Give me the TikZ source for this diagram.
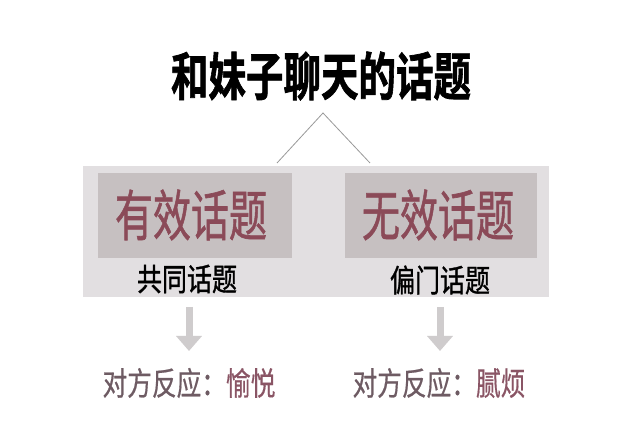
\documentclass[tikz,border=0pt]{standalone}
\usepackage{fontspec}
\usepackage{graphicx}
\newfontfamily\cjk[FakeBold=0.6]{Noto Sans CJK SC}
\newfontfamily\cjkm[FakeBold=1.2]{Noto Sans CJK SC}
\newfontfamily\cjkb[FakeBold=1.5]{Noto Sans CJK SC Bold}
\newcommand\stretchy[2]{\scalebox{1}[#1]{#2}}
\definecolor{panelgray}{HTML}{E2DFE1}
\definecolor{boxgray}{HTML}{C6C0C1}
\definecolor{topicred}{HTML}{8B4A58}
\definecolor{mauve}{HTML}{6E5B63}
\definecolor{pinkred}{HTML}{8A5565}
\definecolor{arrowgray}{HTML}{CFCCCD}
\usetikzlibrary{arrows.meta}
\tikzset{
  title/.style={font=\cjkb\fontsize{37.5}{40}\selectfont, text=black, inner sep=0pt},
  bigtopic/.style={font=\cjkm\fontsize{38}{40}\selectfont, text=topicred, inner sep=0pt},
  subtopic/.style={font=\cjkm\fontsize{25}{27}\selectfont, text=black, inner sep=0pt},
  reaction/.style={font=\cjk\fontsize{24.7}{27}\selectfont, text=mauve, inner sep=0pt},
  link/.style={draw=gray!80, line width=0.8pt},
  downarrow/.style={draw=arrowgray, line width=7pt, -{Triangle[width=25pt,length=15pt]}},
}
\begin{document}
\begin{tikzpicture}[x=1pt,y=-1pt]
\useasboundingbox[fill=white] (0,0) rectangle (622,438);
% panel
\fill[panelgray] (83,166) rectangle (549,297);
\fill[boxgray] (98,173) rectangle (292,258);
\fill[boxgray] (345,173) rectangle (537,258);
% title
\node[title] (t) at (321,76) {\stretchy{1.38}{和妹子聊天的话题}};
\coordinate (apex) at (323,113);
\coordinate (lf) at (277,163);
\coordinate (rf) at (370,163);
\draw[link] (lf) -- (apex) -- (rf);
% topics
\node[bigtopic] (eff) at (191,215) {\stretchy{1.45}{有效话题}};
\node[bigtopic] (ineff) at (438,215) {\stretchy{1.45}{无效话题}};
\node[subtopic] (common) at (187,279) {\stretchy{1.25}{共同话题}};
\node[subtopic] (niche) at (440,280) {\stretchy{1.25}{偏门话题}};
% arrows
\coordinate (la1) at (189,307);
\coordinate (la2) at (189,351);
\coordinate (ra1) at (440,307);
\coordinate (ra2) at (440,351);
\draw[downarrow] (la1) -- (la2);
\draw[downarrow] (ra1) -- (ra2);
% reactions
\node[reaction] (r1) at (189,383) {\stretchy{1.3}{对方反应：\textcolor{pinkred}{愉悦}}};
\node[reaction] (r2) at (439,383) {\stretchy{1.3}{对方反应：\textcolor{pinkred}{腻烦}}};
\end{tikzpicture}
\end{document}
